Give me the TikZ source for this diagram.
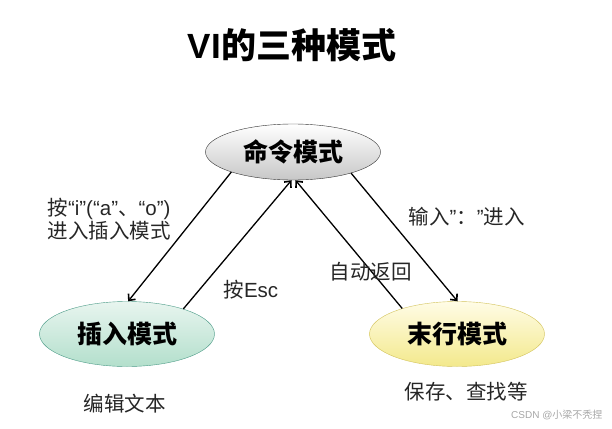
\documentclass[tikz,border=0pt]{standalone}
\usepackage{fontspec}
\setmainfont{Liberation Sans}
\newfontfamily\cjk{Noto Sans CJK SC}
\usepackage{xcolor}
\usetikzlibrary{shapes.geometric,arrows.meta}

\definecolor{insTop}{HTML}{E8F5EF}
\definecolor{insBot}{HTML}{B3DFCC}
\definecolor{insLine}{HTML}{4A9A86}
\definecolor{endTop}{HTML}{FFFCE6}
\definecolor{endBot}{HTML}{F3E98C}
\definecolor{endLine}{HTML}{D2C25A}

\tikzset{
  mode/.style={ellipse, minimum width=175pt, minimum height=60pt, inner sep=0pt,
    font=\fontsize{25}{28}\selectfont\cjk\bfseries, shading=axis},
  lbl/.style={font=\fontsize{20.5}{21}\selectfont, text=black!85},
  link/.style={-{Straight Barb[length=5pt,width=9pt,line width=1.6pt]}, line width=1.3pt}
}

\begin{document}
\begin{tikzpicture}[x=1pt,y=-1pt]
  \useasboundingbox (0,0) rectangle (612,428);
  \node[font=\fontsize{35}{38}\selectfont\bfseries] (title) at (292,45) {VI{\cjk 的三种模式}};

  \node[mode, minimum height=56pt, draw=black!80, top color=white, bottom color=black!22] (cmd) at (293,152) {命令模式};
  \node[mode, minimum height=65pt, draw=insLine, top color=insTop, bottom color=insBot] (ins) at (127,334) {插入模式};
  \node[mode, minimum height=65pt, draw=endLine, top color=endTop, bottom color=endBot] (lastline) at (457,334) {末行模式};

  \draw[link] (cmd.198) -- (ins.88);
  \draw[link] (ins.24) -- (cmd.267);
  \draw[link] (lastline.155) -- (cmd.275);
  \draw[link] (cmd.340) -- (lastline.89);

  \node[lbl, anchor=west, align=left] (toins) at (44,219) {{\cjk 按}“i”(“a”{\cjk 、}“o”)\\{\cjk 进入插入模式}};
  \node[lbl, anchor=west] (esc) at (220,290) {{\cjk 按}Esc};
  \node[lbl, anchor=west] (back) at (326,272) {\cjk 自动返回};
  \node[lbl, anchor=west] (tolast) at (405,217) {{\cjk 输入}”{\cjk ：}”{\cjk 进入}};
  \node[lbl, anchor=west] (edit) at (80,404) {\cjk 编辑文本};
  \node[lbl, anchor=west] (save) at (401,392) {\cjk 保存、查找等};

  \node[font=\fontsize{10}{12}\selectfont, text=black!35, anchor=east] (mark) at (606,415) {CSDN @{\cjk 小梁不秃捏}};
\end{tikzpicture}
\end{document}
